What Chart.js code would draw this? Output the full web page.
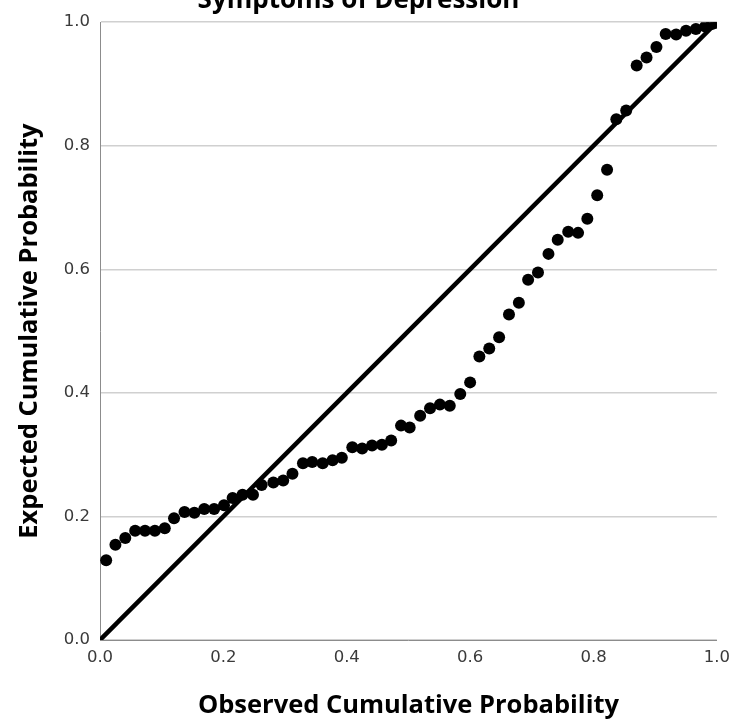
<!DOCTYPE html>
<html>
<head>
<meta charset="utf-8">
<script src="https://cdn.jsdelivr.net/npm/chart.js@4.4.1/dist/chart.umd.min.js"></script>
<style>
  html, body { margin: 0; padding: 0; background: #fff; }
  #wrap { width: 738px; height: 725px; overflow: hidden; position: relative; }
  #chart { position: absolute; left: 0; top: -20px; }
</style>
</head>
<body>
<div id="wrap"><canvas id="chart" width="738" height="745"></canvas></div>
<script>
// observed vs expected cumulative probability
const observed = [
  0.010, 0.025, 0.041, 0.057, 0.073, 0.089, 0.105, 0.120, 0.137, 0.153,
  0.169, 0.185, 0.201, 0.215, 0.231, 0.248, 0.262, 0.281, 0.297, 0.312,
  0.329, 0.344, 0.361, 0.377, 0.392, 0.409, 0.425, 0.441, 0.457, 0.472,
  0.488, 0.502, 0.519, 0.535, 0.551, 0.567, 0.584, 0.600, 0.615, 0.631,
  0.647, 0.663, 0.679, 0.694, 0.710, 0.727, 0.742, 0.759, 0.775, 0.790,
  0.806, 0.822, 0.837, 0.853, 0.870, 0.886, 0.902, 0.917, 0.934, 0.950,
  0.966, 0.981, 0.992, 0.999
];
const expected = [
  0.129, 0.154, 0.165, 0.177, 0.177, 0.177, 0.181, 0.197, 0.207, 0.206,
  0.212, 0.212, 0.218, 0.230, 0.235, 0.235, 0.251, 0.255, 0.258, 0.269,
  0.286, 0.288, 0.286, 0.291, 0.295, 0.312, 0.310, 0.315, 0.316, 0.323,
  0.347, 0.344, 0.363, 0.375, 0.381, 0.379, 0.398, 0.417, 0.459, 0.472,
  0.490, 0.527, 0.546, 0.583, 0.595, 0.625, 0.648, 0.661, 0.659, 0.682,
  0.720, 0.761, 0.843, 0.857, 0.930, 0.943, 0.960, 0.981, 0.980, 0.986,
  0.989, 0.993, 0.997, 0.999
];
const refLine = [0, 1];
const tickValues = [0, 0.2, 0.4, 0.6, 0.8, 1.0];

const chartTitle = 'Symptoms of Depression';
const xTitle = 'Observed Cumulative Probability';
const yTitle = 'Expected Cumulative Probability';

const points = observed.map((x, i) => ({x: x, y: expected[i]}));
const diagonal = refLine.map(v => ({x: v, y: v}));

const tickFont = {family: 'DejaVu Sans', size: 16.5};
const titleFont = {family: 'Open Sans', size: 25.5, weight: 'bold'};

new Chart(document.getElementById('chart').getContext('2d'), {
    type: 'scatter',
    data: {
        datasets: [
            {
                type: 'line',
                data: diagonal,
                borderColor: '#000',
                borderWidth: 4.5,
                pointRadius: 0,
                fill: false,
                order: 2
            },
            {
                data: points,
                backgroundColor: '#000',
                borderColor: '#000',
                pointRadius: 6,
                pointBorderWidth: 0,
                order: 1
            }
        ]
    },
    options: {
        responsive: false,
        animation: false,
        layout: {padding: {left: 0, right: 21, top: 0, bottom: 0}},
        plugins: {
            legend: {display: false},
            tooltip: {enabled: false},
            title: {
                display: true,
                text: chartTitle,
                color: '#000',
                font: {family: 'Open Sans', size: 26, weight: 'bold'},
                padding: {top: 5, bottom: 6}
            }
        },
        scales: {
            x: {
                type: 'linear',
                min: 0,
                max: 1,
                afterBuildTicks: scale => { scale.ticks = tickValues.map(v => ({value: v})); },
                afterFit: scale => { scale.height = 85; },
                grid: {display: false, drawTicks: false},
                border: {display: true, color: '#8c8c8c', width: 1},
                ticks: {
                    color: '#3a3a3a',
                    font: tickFont,
                    padding: 8,
                    maxRotation: 0,
                    callback: v => v.toFixed(1)
                },
                title: {
                    display: true,
                    text: xTitle,
                    color: '#000',
                    font: titleFont,
                    padding: {top: 0, bottom: 4}
                }
            },
            y: {
                type: 'linear',
                min: 0,
                max: 1,
                afterBuildTicks: scale => { scale.ticks = tickValues.map(v => ({value: v})); },
                afterFit: scale => { scale.width = 100; },
                grid: {color: '#d0d0d0', lineWidth: 1.5, drawTicks: false},
                border: {display: true, color: '#8c8c8c', width: 1},
                ticks: {
                    color: '#3a3a3a',
                    font: tickFont,
                    padding: 10,
                    callback: v => v.toFixed(1)
                },
                title: {
                    display: true,
                    text: yTitle,
                    color: '#000',
                    font: titleFont,
                    padding: {top: 14, bottom: 0}
                }
            }
        }
    }
});
</script>
</body>
</html>
